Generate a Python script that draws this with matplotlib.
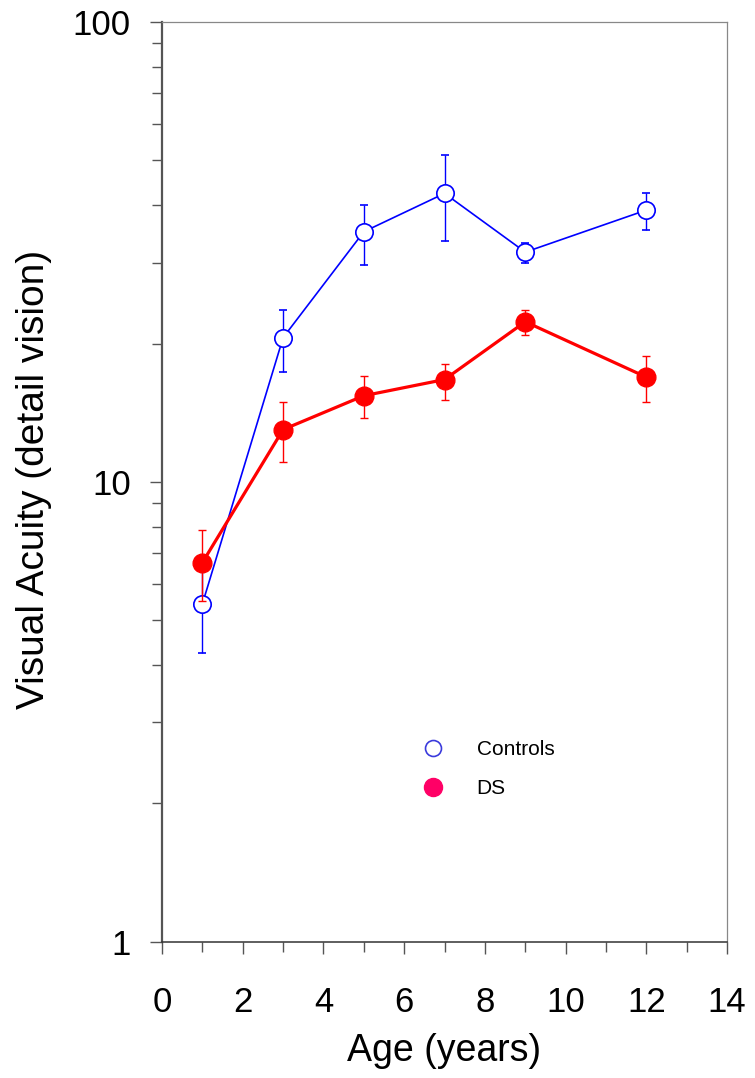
import matplotlib

matplotlib.use("Agg")

import matplotlib.pyplot as plt
from matplotlib.lines import Line2D
from matplotlib.ticker import FixedLocator, LogLocator, NullFormatter

plt.rcParams["font.family"] = ["Liberation Sans", "DejaVu Sans"]

ages = [1, 3, 5, 7, 9, 12]

controls = [5.43, 20.6, 35.0, 42.4, 31.6, 39.0]
controls_low = [4.25, 17.3, 29.6, 33.4, 30.0, 35.3]
controls_high = [6.6, 23.6, 40.1, 51.4, 33.0, 42.5]

ds = [6.68, 13.0, 15.4, 16.7, 22.3, 16.9]
ds_low = [5.5, 11.05, 13.8, 15.1, 20.9, 14.9]
ds_high = [7.86, 14.9, 17.0, 18.05, 23.6, 18.8]

BLUE = "#0000ff"
RED = "#ff0000"
SPINE = "#555555"

fig = plt.figure(figsize=(7.55, 10.78), dpi=100, facecolor="white")
ax = fig.add_axes([0.2146, 0.1262, 0.7484, 0.8534])

c_err = [[c - lo for c, lo in zip(controls, controls_low)],
         [hi - c for c, hi in zip(controls, controls_high)]]
d_err = [[d - lo for d, lo in zip(ds, ds_low)],
         [hi - d for d, hi in zip(ds, ds_high)]]

ax.errorbar(ages, controls, yerr=c_err, color=BLUE, linewidth=1.2, elinewidth=1.0,
            capsize=2.8, capthick=1.0, marker="o", markersize=12.5,
            markerfacecolor="white", markeredgecolor=BLUE, markeredgewidth=1.2, zorder=3)
ax.errorbar(ages, ds, yerr=d_err, color=RED, linewidth=2.3, elinewidth=1.0,
            capsize=2.8, capthick=1.0, marker="o", markersize=13.5,
            markerfacecolor=RED, markeredgecolor=RED, zorder=4)

ax.set_yscale("log")
ax.set_ylim(1, 100)
ax.set_xlim(0, 14)
ax.xaxis.set_major_locator(FixedLocator(range(0, 15, 2)))
ax.xaxis.set_minor_locator(FixedLocator(range(1, 14, 2)))
ax.yaxis.set_major_locator(FixedLocator([1, 10, 100]))
ax.yaxis.set_minor_locator(LogLocator(base=10, subs=range(2, 10)))
ax.yaxis.set_minor_formatter(NullFormatter())
ax.set_yticklabels(["1", "10", "100"])

ax.tick_params(axis="both", which="major", labelsize=25, direction="out", length=8.5,
               width=1.0, color=SPINE)
ax.tick_params(axis="both", which="minor", direction="out", length=7, width=1.0, color=SPINE)
ax.tick_params(axis="x", which="major", pad=23)
ax.tick_params(axis="y", which="major", pad=14)

ax.spines["left"].set_color(SPINE)
ax.spines["left"].set_linewidth(1.6)
ax.spines["bottom"].set_color("#333333")
ax.spines["bottom"].set_linewidth(1.1)
ax.spines["top"].set_color("#888888")
ax.spines["top"].set_linewidth(0.9)
ax.spines["right"].set_color("#888888")
ax.spines["right"].set_linewidth(0.9)

ax.set_xlabel("Age (years)", fontsize=27, labelpad=10)
ax.set_ylabel("Visual Acuity (detail vision)", fontsize=28)
ax.yaxis.set_label_coords(-0.195, 0.503)

handles = [
    Line2D([], [], linestyle="none", marker="o", markersize=11.5, markerfacecolor="white",
           markeredgecolor="#3b3bdc", markeredgewidth=1.2),
    Line2D([], [], linestyle="none", marker="o", markersize=13, markerfacecolor="#ff0066",
           markeredgecolor="#ff0066"),
]
ax.legend(handles, ["Controls", "DS"], loc="center left", bbox_to_anchor=(0.4425, 0.188),
          frameon=False, fontsize=15, handlelength=2.0, handletextpad=1.1,
          labelspacing=0.95, borderpad=0, borderaxespad=0)

fig.savefig("out.png", dpi=100, facecolor="white")
